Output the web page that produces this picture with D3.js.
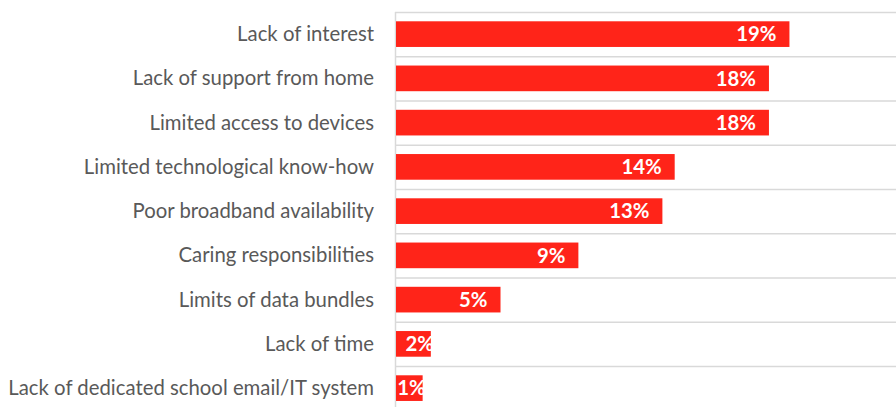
<!DOCTYPE html>
<head>
    <title>Barriers</title>
    <script src="https://d3js.org/d3.v7.min.js"></script>
    <style>
        body { margin: 0; background: #fff; }
    </style>
</head>
<body>
<svg></svg>
</body>

<script>
    // data
    var categories = [
        "Lack of interest",
        "Lack of support from home",
        "Limited access to devices",
        "Limited technological know-how",
        "Poor broadband availability",
        "Caring responsibilities",
        "Limits of data bundles",
        "Lack of time",
        "Lack of dedicated school email/IT system"
    ];
    var values = [0.192, 0.182, 0.182, 0.136, 0.130, 0.089, 0.051, 0.017, 0.013];

    var width = 896, height = 407;
    var plotLeft = 396, plotTop = 12, step = 44.25;

    var svg = d3.select("svg")
        .attr("width", width)
        .attr("height", height)
        .style("font-family", "Lato, 'Open Sans', sans-serif");

    var x = d3.scaleLinear().domain([0, 0.244]).range([plotLeft, width]);
    var y = d3.scaleBand()
        .domain(categories)
        .range([plotTop, plotTop + step * categories.length])
        .paddingInner(0.42)
        .paddingOuter(0.21);

    // gridlines at band boundaries
    svg.selectAll(".grid")
        .data(d3.range(categories.length + 1))
        .enter().append("line")
        .attr("x1", plotLeft - 1)
        .attr("x2", width)
        .attr("y1", function (i) { return plotTop + i * step + 0.5; })
        .attr("y2", function (i) { return plotTop + i * step + 0.5; })
        .style("stroke", "#d9d9d9")
        .style("stroke-width", 1.3);

    svg.append("line")
        .attr("x1", plotLeft - 0.5).attr("x2", plotLeft - 0.5)
        .attr("y1", plotTop).attr("y2", height)
        .style("stroke", "#d9d9d9")
        .style("stroke-width", 1.5);

    svg.selectAll(".bar")
        .data(values)
        .enter().append("rect")
        .attr("x", plotLeft)
        .attr("y", function (d, i) { return y(categories[i]); })
        .attr("width", function (d) { return x(d) - plotLeft; })
        .attr("height", y.bandwidth())
        .style("fill", "#ff2419");

    // category labels
    var labels = svg.selectAll(".cat")
        .data(categories)
        .enter().append("text")
        .attr("x", 374)
        .attr("y", function (d) { return y(d) + y.bandwidth() / 2; })
        .attr("dy", "0.35em")
        .attr("text-anchor", "end")
        .style("font-size", "18px")
        .style("fill", "#595959")
        .text(function (d) { return d; });

    // scale font so the longest label spans like the original
    var widest = d3.max(labels.nodes(), function (n) { return n.getComputedTextLength(); });
    var fs = 18 * 366 / widest;
    labels.style("font-size", fs + "px");

    // value labels
    svg.selectAll(".val")
        .data(values)
        .enter().append("text")
        .attr("x", function (d) {
            var w = x(d) - plotLeft;
            return w < 40 ? x(d) + 3 : x(d) - 13;
        })
        .attr("y", function (d, i) { return y(categories[i]) + y.bandwidth() / 2; })
        .attr("dy", "0.36em")
        .attr("text-anchor", "end")
        .style("font-size", fs + "px")
        .style("font-weight", "bold")
        .style("fill", "#fff")
        .text(function (d) { return Math.round(d * 100) + "%"; });
</script>
